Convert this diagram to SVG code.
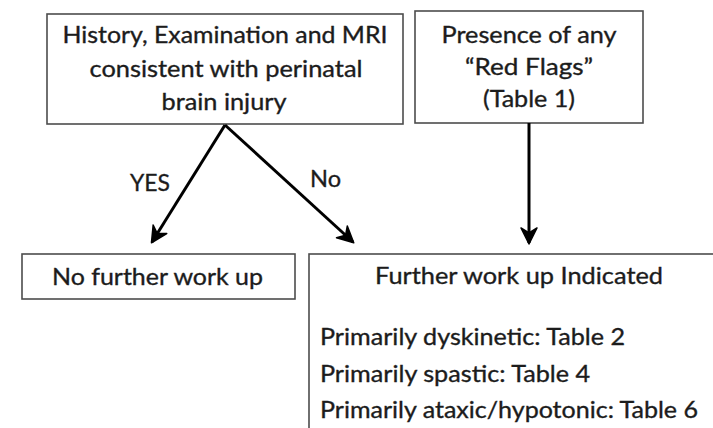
<svg xmlns="http://www.w3.org/2000/svg" width="713" height="428" viewBox="0 0 713 428">
  <defs>
    <style>
      .box { fill: #ffffff; stroke: #4d4d4d; stroke-width: 1.6; }
      .t { font-family: Lato, "Open Sans", "Liberation Sans", sans-serif; font-size: 23.5px; fill: #1c1c1c; stroke: #1c1c1c; stroke-width: 0.35; }
      .c { text-anchor: middle; }
      .edge { stroke: #000000; stroke-width: 3; fill: none; }
    </style>
    <marker id="head" markerUnits="userSpaceOnUse" markerWidth="24" markerHeight="24" viewBox="-18 -12 20 24" refX="0" refY="0" orient="auto">
      <path d="M1,0 L-15,-8 L-10,0 L-15,8 Z" fill="#000000" stroke="#000000" stroke-width="1.5" stroke-linejoin="round"/>
    </marker>
  </defs>
  <rect width="713" height="428" fill="#ffffff"/>

  <g id="node-criteria">
    <rect class="box" x="47" y="14" width="356" height="110"/>
    <text class="t c" x="225" y="43" textLength="325" lengthAdjust="spacingAndGlyphs">History, Examination and MRI</text>
    <text class="t c" x="226" y="77" textLength="273" lengthAdjust="spacingAndGlyphs">consistent with perinatal</text>
    <text class="t c" x="224" y="110" textLength="125" lengthAdjust="spacingAndGlyphs">brain injury</text>
  </g>

  <g id="node-redflags">
    <rect class="box" x="415" y="11" width="228" height="112"/>
    <text class="t c" x="529" y="43" textLength="175" lengthAdjust="spacingAndGlyphs">Presence of any</text>
    <text class="t c" x="529" y="75" textLength="128" lengthAdjust="spacingAndGlyphs">“Red Flags”</text>
    <text class="t c" x="529" y="107" textLength="92" lengthAdjust="spacingAndGlyphs">(Table 1)</text>
  </g>

  <g id="node-no-workup">
    <rect class="box" x="22" y="254" width="273" height="45"/>
    <text class="t c" x="157.5" y="285" textLength="211" lengthAdjust="spacingAndGlyphs">No further work up</text>
  </g>

  <g id="node-workup">
    <rect class="box" x="309" y="254" width="420" height="200"/>
    <text class="t c" x="519" y="284" textLength="288" lengthAdjust="spacingAndGlyphs">Further work up Indicated</text>
    <text class="t" x="320" y="345" textLength="305" lengthAdjust="spacingAndGlyphs">Primarily dyskinetic: Table 2</text>
    <text class="t" x="320" y="382" textLength="270" lengthAdjust="spacingAndGlyphs">Primarily spastic: Table 4</text>
    <text class="t" x="320" y="418" textLength="378" lengthAdjust="spacingAndGlyphs">Primarily ataxic/hypotonic: Table 6</text>
  </g>

  <g id="connectors">
    <line class="edge" x1="225" y1="125" x2="152" y2="242" marker-end="url(#head)"/>
    <line class="edge" x1="225" y1="125" x2="353" y2="242" marker-end="url(#head)"/>
    <line class="edge" x1="529" y1="123" x2="529" y2="243" marker-end="url(#head)"/>
    <text class="t" x="130" y="191" textLength="40" lengthAdjust="spacingAndGlyphs">YES</text>
    <text class="t" x="310" y="187" textLength="31" lengthAdjust="spacingAndGlyphs">No</text>
  </g>
</svg>
